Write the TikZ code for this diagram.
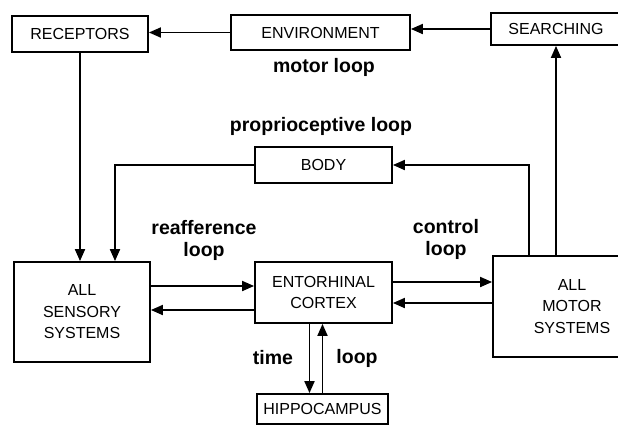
\documentclass[tikz,border=0pt]{standalone}
\usepackage{fontspec}
\setmainfont{Liberation Sans}
\usetikzlibrary{arrows.meta}

\begin{document}
\begin{tikzpicture}[x=1pt,y=-1pt,
    box/.style={draw,line width=1.8pt,align=center,inner sep=0pt,
      font=\fontsize{16}{21.5}\selectfont},
    lbl/.style={font=\fontsize{19.5}{22}\selectfont\bfseries},
    arr/.style={line width=1.8pt,-{Triangle[length=12pt,width=10pt]}}]
     \clip (0,0) rectangle (618,424);
     % boxes
     \draw(80,34) node[box,minimum width=136pt,minimum height=36pt] (rec) {RECEPTORS};
     \draw(320.5,32.5) node[box,minimum width=179pt,minimum height=35pt] (env) {ENVIRONMENT};
     \draw(556,29) node[box,minimum width=130pt,minimum height=32pt] (srch) {SEARCHING};
     \draw(323.5,165) node[box,minimum width=137pt,minimum height=36pt] (body) {BODY};
     \draw(82,312) node[box,minimum width=136pt,minimum height=100pt] (sens) {ALL\\SENSORY\\SYSTEMS};
     \draw(323.5,292.5) node[box,minimum width=137pt,minimum height=61pt] (ento) {ENTORHINAL\\CORTEX};
     \draw(572,306.5) node[box,minimum width=158pt,minimum height=101pt] (mot) {ALL\\MOTOR\\SYSTEMS};
     \draw(322.5,409) node[box,minimum width=131pt,minimum height=30pt] (hip) {HIPPOCAMPUS};
     % motor loop
     \draw[arr] (srch.west) -- (srch.west -| env.east);
     \draw[arr] (env.west) -- (env.west -| rec.east);
     \draw[arr] (rec.south) -- (rec.south |- sens.north);
     \draw[arr] (srch.south |- mot.north) -- (srch.south);
     % proprioceptive loop
     \draw[arr] ([xshift=-43pt]mot.north) |- (body.east);
     \draw[arr] (body.west) -| ([xshift=33pt]sens.north);
     % reafference and control loops
     \draw[arr] ([yshift=26pt]sens.east) -- ([yshift=26pt]sens.east -| ento.west);
     \draw[arr] ([yshift=-17.5pt]ento.west) -- ([yshift=-17.5pt]ento.west -| sens.east);
     \draw[arr] ([yshift=10.5pt]ento.east) -- ([yshift=10.5pt]ento.east -| mot.west);
     \draw[arr] ([yshift=-10.5pt]ento.east -| mot.west) -- ([yshift=-10.5pt]ento.east);
     % time loop
     \draw[arr] ([xshift=-14pt]ento.south) -- ([xshift=-14pt]ento.south |- hip.north);
     \draw[arr] (hip.north) -- (hip.north |- ento.south);
     % labels
     \draw(324,67) node[lbl] (lmot) {motor loop};
     \draw(321,126) node[lbl] (lprop) {proprioceptive loop};
     \draw(204,240) node[lbl,align=center] (lreaf) {reafference\\loop};
     \draw(446,239) node[lbl,align=center] (lctrl) {control\\loop};
     \draw(273,358) node[lbl] (ltime) {time};
     \draw(357,358) node[lbl] (lloop) {loop};
    \end{tikzpicture}
\end{document}
